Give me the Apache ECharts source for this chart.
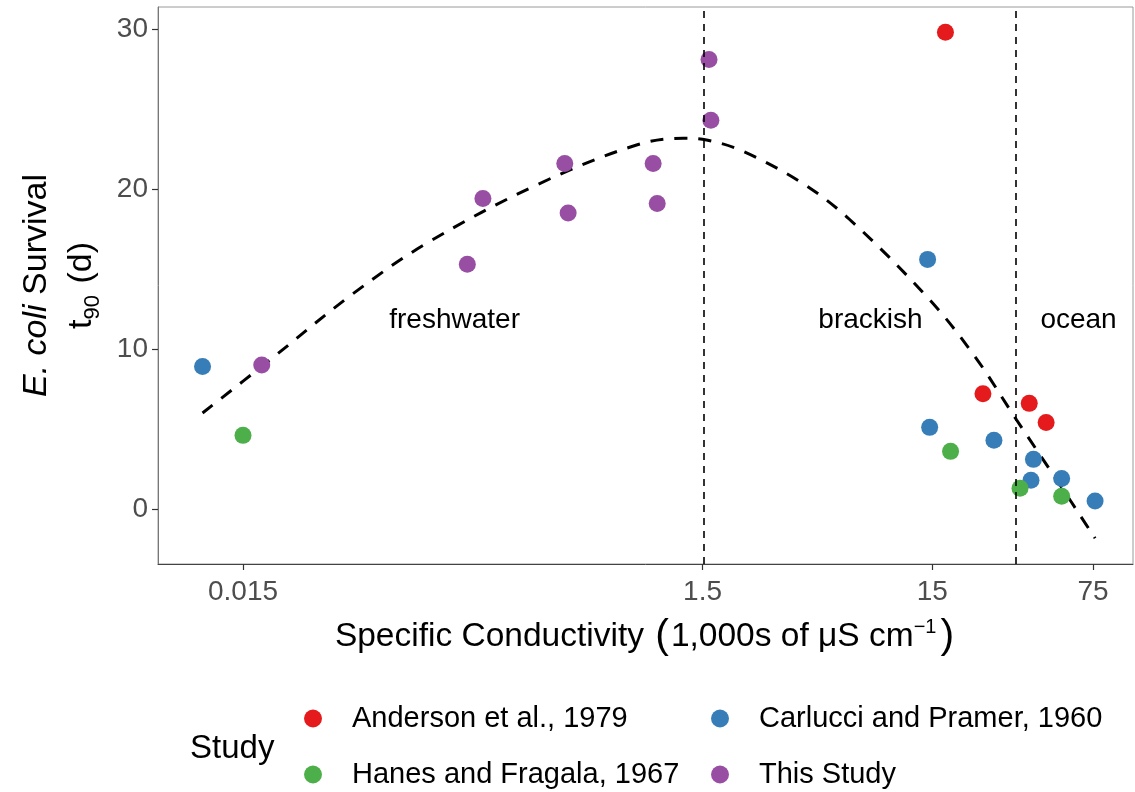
<!DOCTYPE html>
<html>
<head>
<meta charset="utf-8">
<script src="https://cdn.jsdelivr.net/npm/echarts@6/dist/echarts.min.js"></script>
<style>
  html, body { margin: 0; padding: 0; background: #ffffff; }
  #chart { width: 1135px; height: 792px; }
</style>
</head>
<body>
<div id="chart"></div>
<script>
// Specific conductivity (1,000s of µS/cm) and E. coli t90 (days) per study
const andersonX = [17.1, 24.9, 39.6, 46.9];
const andersonY = [29.8, 7.2, 6.6, 5.4];
const carlucciX = [0.010, 14.3, 14.6, 27.8, 41.3, 40.3, 54.8, 76.6];
const carlucciY = [8.9, 15.6, 5.1, 4.3, 3.1, 1.8, 1.9, 0.5];
const hanesX = [0.015, 18.0, 36.1, 54.8];
const hanesY = [4.6, 3.6, 1.3, 0.8];
const thisStudyX = [0.0181, 0.142, 0.166, 0.377, 0.390, 0.914, 0.952, 1.60, 1.63];
const thisStudyY = [9.0, 15.3, 19.4, 21.6, 18.5, 21.6, 19.1, 28.1, 24.3];

// Fitted trend across all studies
const fitX = [0.0100, 0.0196, 0.0437, 0.0943, 0.289, 0.774, 1.235, 1.561, 2.18, 3.98, 6.46, 14.4, 23.0, 34.9, 52.2, 76.6];
const fitY = [6.0, 9.3, 13.3, 16.6, 20.3, 22.75, 23.17, 23.06, 22.44, 20.46, 18.17, 13.17, 9.52, 5.56, 1.81, -1.83];

// Salinity class boundaries and region captions
const boundaries = [1.5, 35];
const regionNames = ['freshwater', 'brackish', 'ocean'];
const regionX = [0.125, 8.07, 64.9];
const regionY = [11.8, 11.8, 11.8];

// Axes
const xRange = [0.0064, 112];
const xTicks = [0.015, 1.5, 15, 75];
const xTickLabels = ['0.015', '1.5', '15', '75'];
const yRange = [-3.44, 31.375];
const yTicks = [0, 10, 20, 30];

const studyNames = ['Anderson et al., 1979', 'Carlucci and Pramer, 1960', 'Hanes and Fragala, 1967', 'This Study'];
const studyColors = ['#E41A1C', '#377EB8', '#4DAF4A', '#984EA3'];

const FONT = '"Liberation Sans", Arial, sans-serif';
const lg = Math.log10;
const pts = (xs, ys) => xs.map((x, i) => [lg(x), ys[i]]);

const studyData = [
  pts(andersonX, andersonY),
  pts(carlucciX, carlucciY),
  pts(hanesX, hanesY),
  pts(thisStudyX, thisStudyY)
];

const xTickLog = xTicks.map(lg);

// Legend laid out in two columns: one legend box per entry
const legendSlots = [
  { left: 299, top: 699 },  // Anderson
  { left: 706, top: 699 },  // Carlucci
  { left: 299, top: 755 },  // Hanes
  { left: 706, top: 755 }   // This Study
];

const chart = echarts.init(document.getElementById('chart'), null, { renderer: 'canvas' });

const option = {
  animation: false,
  backgroundColor: '#ffffff',
  textStyle: { fontFamily: FONT },
  grid: {
    left: 158, right: 2, top: 7, bottom: 228,
    show: true, borderColor: '#9a9a9a', borderWidth: 1, backgroundColor: 'transparent'
  },
  xAxis: {
    type: 'value',
    min: lg(xRange[0]),
    max: lg(xRange[1]),
    splitLine: { show: false },
    axisLine: { show: true, onZero: false, lineStyle: { color: '#444444', width: 1 } },
    axisTick: { show: true, length: 6, customValues: xTickLog, lineStyle: { color: '#333333', width: 1.2 } },
    axisLabel: {
      customValues: xTickLog,
      margin: 14,
      fontSize: 28,
      color: '#4d4d4d',
      fontFamily: FONT,
      formatter: (v) => {
        let best = 0;
        xTickLog.forEach((t, i) => { if (Math.abs(t - v) < Math.abs(xTickLog[best] - v)) best = i; });
        return xTickLabels[best];
      }
    },
    name: '{n|Specific Conductivity }{p|(}{n|1,000s of μS cm}{sup|−1}{p|)}',
    nameLocation: 'middle',
    nameGap: 50,
    nameTextStyle: {
      color: '#000000',
      fontFamily: FONT,
      rich: {
        n: { fontSize: 33.5, color: '#000', fontFamily: FONT, lineHeight: 46, verticalAlign: 'middle' },
        p: { fontSize: 41, color: '#000', fontFamily: FONT, lineHeight: 46, verticalAlign: 'middle', padding: [0, 2, 0, 2] },
        sup: { fontSize: 20, color: '#000', fontFamily: FONT, lineHeight: 46, verticalAlign: 'top', padding: [3, 2, 0, 0] }
      }
    }
  },
  yAxis: {
    type: 'value',
    min: yRange[0],
    max: yRange[1],
    splitLine: { show: false },
    axisLine: { show: true, onZero: false, lineStyle: { color: '#777777', width: 1 } },
    axisTick: { show: true, length: 6, customValues: yTicks, lineStyle: { color: '#333333', width: 1.2 } },
    axisLabel: {
      customValues: yTicks,
      margin: 10,
      fontSize: 28,
      color: '#4d4d4d',
      fontFamily: FONT,
      padding: [4, 0, 0, 0]
    },
    name: '{it|E. coli}{n| Survival}\n{n|t}{sub|90}{n| (d)}',
    nameLocation: 'middle',
    nameRotate: 90,
    nameGap: 54,
    nameTextStyle: {
      color: '#000000',
      fontFamily: FONT,
      align: 'center',
      rich: {
        it: { fontSize: 34, fontStyle: 'italic', color: '#000', fontFamily: FONT, lineHeight: 45, align: 'center' },
        n: { fontSize: 34, color: '#000', fontFamily: FONT, lineHeight: 45, align: 'center' },
        sub: { fontSize: 22, color: '#000', fontFamily: FONT, lineHeight: 45, verticalAlign: 'bottom', padding: [0, 2, 0, 0] }
      }
    }
  },
  legend: studyNames.map((name, i) => ({
    data: [name],
    orient: 'vertical',
    left: legendSlots[i].left,
    top: legendSlots[i].top,
    itemWidth: 18, itemHeight: 18,
    icon: 'circle',
    textStyle: { fontSize: 29, color: '#000', fontFamily: FONT, padding: [0, 0, 0, 25] },
    selectedMode: false
  })),
  graphic: [
    {
      type: 'text',
      left: 190, top: 732,
      style: { text: 'Study', fontSize: 33, fill: '#000', fontFamily: FONT }
    }
  ],
  series: [
    {
      name: 'trend',
      type: 'line',
      data: pts(fitX, fitY),
      smooth: 0.35,
      showSymbol: false,
      silent: true,
      z: 2,
      lineStyle: { color: '#000000', width: 3, type: [13, 11] },
      markLine: {
        silent: true,
        symbol: ['none', 'none'],
        label: { show: false },
        lineStyle: { color: '#000000', width: 1.6, type: [7, 6] },
        data: boundaries.map((b) => ({ xAxis: lg(b) }))
      }
    },
    {
      name: 'regions',
      type: 'scatter',
      symbolSize: 1,
      silent: true,
      z: 1,
      itemStyle: { opacity: 0 },
      data: regionNames.map((n, i) => ({ name: n, value: [lg(regionX[i]), regionY[i]] })),
      label: {
        show: true,
        position: 'inside',
        formatter: (p) => p.name,
        fontSize: 28,
        color: '#000000',
        opacity: 1,
        fontFamily: FONT
      }
    }
  ].concat(studyNames.map((name, i) => ({
    name: name,
    type: 'scatter',
    data: studyData[i],
    symbol: 'circle',
    symbolSize: 17,
    z: 4,
    itemStyle: { color: studyColors[i], opacity: 1 }
  })))
};

chart.setOption(option);
</script>
</body>
</html>
